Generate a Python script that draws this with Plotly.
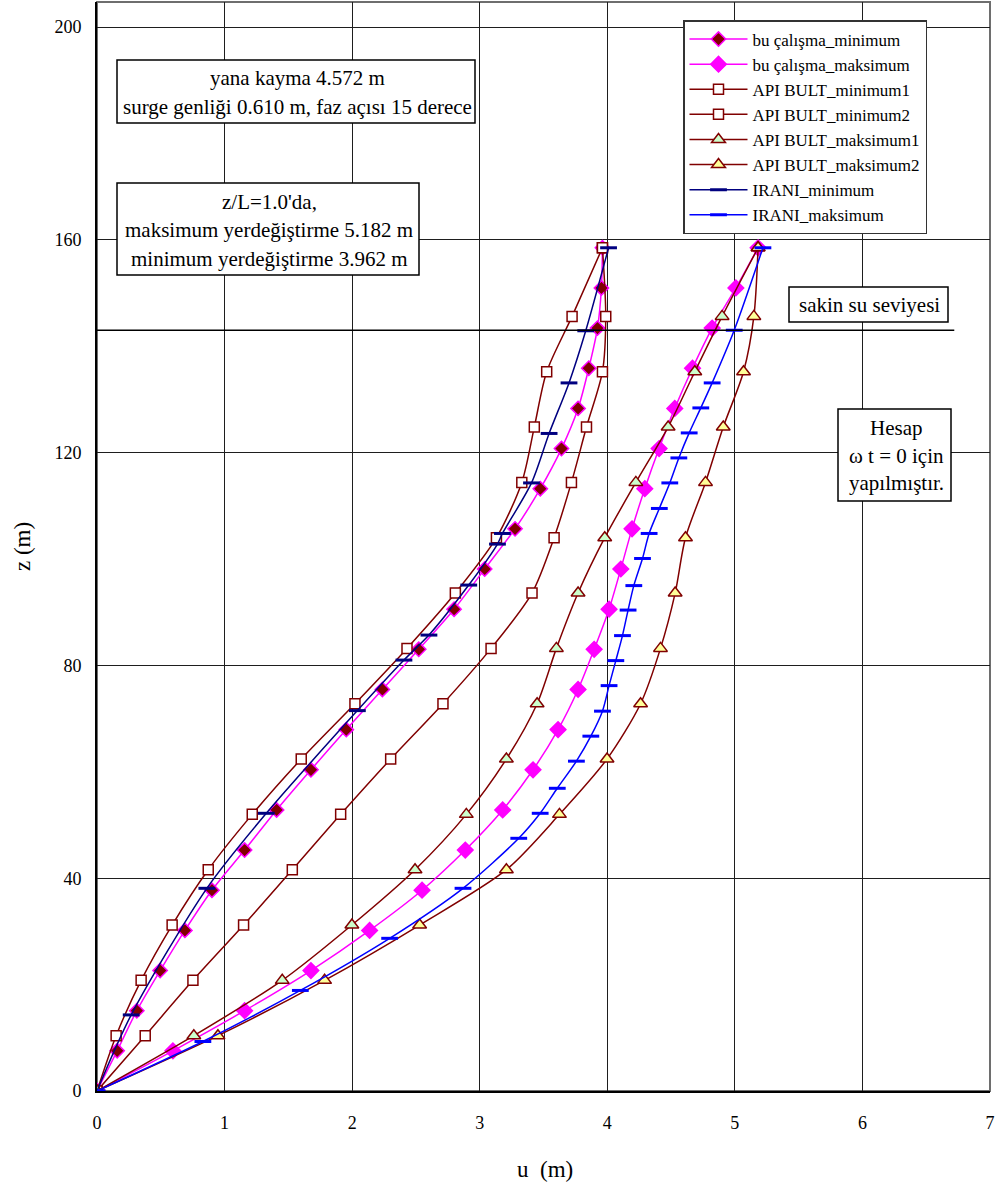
import plotly.graph_objects as go

# ---- depth stations z (m) and lateral displacement u (m) ----
z_bu = [0.0, 7.55, 15.10, 22.64, 30.19, 37.74, 45.29, 52.83, 60.38, 67.93, 75.48,
        83.02, 90.57, 98.12, 105.67, 113.21, 120.76, 128.31, 135.86, 143.40, 150.95, 158.50]
u_bu_min = [0.0, 0.158, 0.312, 0.495, 0.689, 0.901, 1.157, 1.408, 1.677, 1.954, 2.237,
            2.522, 2.799, 3.039, 3.277, 3.475, 3.641, 3.771, 3.855, 3.923, 3.954, 3.962]
u_bu_max = [0.0, 0.595, 1.157, 1.677, 2.137, 2.548, 2.887, 3.180, 3.418, 3.614, 3.771,
            3.897, 4.014, 4.106, 4.194, 4.294, 4.406, 4.529, 4.668, 4.822, 5.008, 5.182]

z_api = [0.0, 10.4, 20.8, 31.2, 41.6, 52.0, 62.4, 72.8, 83.2, 93.6, 104.0,
         114.4, 124.8, 135.2, 145.6, 158.5]
u_api_min1 = [0.0, 0.150, 0.346, 0.589, 0.872, 1.217, 1.601, 2.022, 2.430, 2.809, 3.131,
              3.330, 3.428, 3.525, 3.724, 3.962]
u_api_min2 = [0.0, 0.378, 0.752, 1.149, 1.531, 1.910, 2.302, 2.712, 3.089, 3.410, 3.583,
              3.719, 3.837, 3.962, 3.988, 3.962]
u_api_max1 = [0.0, 0.759, 1.452, 1.998, 2.493, 2.895, 3.209, 3.450, 3.601, 3.771, 3.980,
              4.224, 4.477, 4.686, 4.900, 5.182]
u_api_max2 = [0.0, 0.948, 1.784, 2.529, 3.209, 3.625, 3.998, 4.261, 4.417, 4.532, 4.613,
              4.770, 4.909, 5.068, 5.149, 5.182]

z_irani_min = [0.0, 14.3, 38.1, 52.2, 71.5, 81.0, 85.7, 95.1, 102.8, 104.8, 114.3,
               123.6, 133.1, 142.9, 158.5]
u_irani_min = [0.0, 0.268, 0.861, 1.327, 2.041, 2.406, 2.602, 2.914, 3.139, 3.178, 3.406,
               3.544, 3.700, 3.831, 4.010]

z_irani_max = [0.0, 9.3, 18.9, 28.7, 38.1, 47.5, 52.2, 56.9, 62.0, 66.7, 71.4, 76.2, 80.9,
               85.6, 90.4, 95.0, 100.1, 104.8, 109.5, 114.3, 119.0, 123.7, 128.4, 133.1,
               143.0, 158.5]
u_irani_max = [0.0, 0.830, 1.594, 2.294, 2.869, 3.306, 3.474, 3.608, 3.758, 3.871, 3.962,
               4.014, 4.067, 4.119, 4.163, 4.208, 4.276, 4.328, 4.408, 4.490, 4.561, 4.642,
               4.733, 4.822, 4.995, 5.220]

# still water level (m) and the extent of its marker line along u (m)
swl_z = 143.0
swl_u_end = 6.72

x_ticks = [0, 1, 2, 3, 4, 5, 6, 7]
y_ticks = [0, 40, 80, 120, 160, 200]

FONT = "Liberation Serif"
DARKRED = "#800000"
MAGENTA = "#FF00FF"
NAVY = "#000080"
BLUE = "#0000FF"

# plot-area box in page pixels, used to place notes and frames
L, R, T, B = 97, 990, 2, 1091
W, H = R - L, B - T


def px(x):
    return (x - L) / W


def py(y):
    return (B - y) / H


fig = go.Figure()

line_shape = dict(shape="spline", smoothing=0.8, width=1.5)


def add_series(name, u, z, color, symbol, size, fill, edge, edge_w=1.5):
    fig.add_trace(go.Scatter(
        x=u, y=z, name=name, mode="lines+markers",
        line=dict(color=color, **line_shape),
        marker=dict(symbol=symbol, size=size, color=fill,
                    line=dict(color=edge, width=edge_w)),
    ))


add_series("bu çalışma_minimum", u_bu_min, z_bu, MAGENTA, "diamond", 11, DARKRED, MAGENTA)
add_series("bu çalışma_maksimum", u_bu_max, z_bu, MAGENTA, "diamond", 12, MAGENTA, MAGENTA)
add_series("API BULT_minimum1", u_api_min1, z_api, DARKRED, "square", 10, "white", DARKRED)
add_series("API BULT_minimum2", u_api_min2, z_api, DARKRED, "square", 10, "white", DARKRED)
add_series("API BULT_maksimum1", u_api_max1, z_api, DARKRED, "triangle-up", 12, "#CCFFCC", DARKRED)
add_series("API BULT_maksimum2", u_api_max2, z_api, DARKRED, "triangle-up", 12, "#FFFF99", DARKRED)
add_series("IRANI_minimum", u_irani_min, z_irani_min, NAVY, "line-ew", 12, NAVY, NAVY, 3)
add_series("IRANI_maksimum", u_irani_max, z_irani_max, BLUE, "line-ew", 12, BLUE, BLUE, 3)

shapes = [
    # outer frame of the plotting area
    dict(type="rect", xref="paper", yref="paper", x0=0, x1=1, y0=0, y1=1,
         line=dict(color="#6e6e6e", width=2), layer="below"),
    # still water level
    dict(type="line", xref="x", yref="y", x0=0, x1=swl_u_end, y0=swl_z, y1=swl_z,
         line=dict(color="black", width=1.5), layer="above"),
]

annotations = []


def note_box(x0, x1, y0, y1, lines, cx, ys, size=21):
    shapes.append(dict(type="rect", xref="paper", yref="paper",
                       x0=px(x0), x1=px(x1), y0=py(y1), y1=py(y0),
                       line=dict(color="black", width=1.5),
                       fillcolor="white", layer="above"))
    for text, y in zip(lines, ys):
        annotations.append(dict(text=text, xref="paper", yref="paper",
                                x=px(cx), y=py(y), xanchor="center", yanchor="middle",
                                showarrow=False, font=dict(family=FONT, size=size, color="black")))


note_box(117, 475, 60, 123,
         ["yana kayma 4.572 m", "surge genliği 0.610 m, faz açısı 15 derece"],
         297, [78, 107])
note_box(117, 419, 183, 275,
         ["z/L=1.0'da,", "maksimum yerdeğiştirme 5.182 m", "minimum yerdeğiştirme 3.962 m"],
         269, [201.5, 230, 258.5])
note_box(789, 948, 287, 322, ["sakin su seviyesi"], 869, [305])
note_box(838, 951, 409, 501, ["Hesap", "ω t = 0 için", "yapılmıştır."],
         896, [428, 455.5, 483.5])

# axis titles
annotations.append(dict(text="u  (m)", xref="paper", yref="paper", x=px(545), y=py(1169),
                        xanchor="center", yanchor="middle", showarrow=False,
                        font=dict(family=FONT, size=23, color="black")))
annotations.append(dict(text="z (m)", xref="paper", yref="paper", x=px(22), y=py(547),
                        xanchor="center", yanchor="middle", showarrow=False, textangle=-90,
                        font=dict(family=FONT, size=23, color="black")))

axis_common = dict(
    showgrid=True, gridcolor="#1e1e1e", gridwidth=1,
    showline=True, linecolor="black", linewidth=2,
    zeroline=False, ticks="", fixedrange=True,
    tickfont=dict(family=FONT, size=18, color="black"),
)

fig.update_layout(
    width=997, height=1186,
    margin=dict(l=L, r=997 - R, t=T, b=1186 - B),
    paper_bgcolor="white", plot_bgcolor="white",
    font=dict(family=FONT, color="black"),
    xaxis=dict(range=[0, 7], tickvals=x_ticks, ticklabelstandoff=14, **axis_common),
    yaxis=dict(range=[0, (B - T) / 5.32], tickvals=y_ticks, ticklabelstandoff=10, **axis_common),
    showlegend=True,
    legend=dict(x=px(683), y=py(20), xanchor="left", yanchor="top",
                bgcolor="white", bordercolor="#333333", borderwidth=1.5,
                font=dict(family=FONT, size=17, color="black"),
                itemwidth=58, tracegroupgap=0),
    shapes=shapes,
    annotations=annotations,
)

fig.write_html("out.html")
